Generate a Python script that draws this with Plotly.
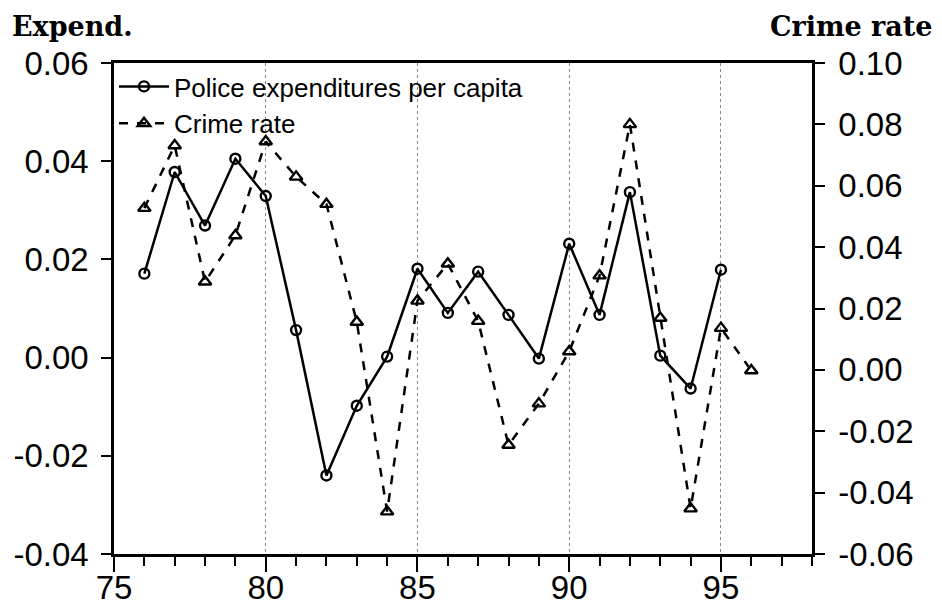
import plotly.graph_objects as go

years_police = list(range(76, 96))
police = [0.0171, 0.0378, 0.0269, 0.0405, 0.0329, 0.0056, -0.0240, -0.0098, 0.0002, 0.0181,
          0.0091, 0.0175, 0.0087, -0.0002, 0.0232, 0.0087, 0.0337, 0.0004, -0.0063, 0.0179]
years_crime = list(range(76, 97))
crime = [0.0527, 0.0731, 0.0287, 0.0438, 0.0744, 0.0629, 0.0540, 0.0156, -0.0462, 0.0225,
         0.0346, 0.0159, -0.0245, -0.0110, 0.0060, 0.0307, 0.0800, 0.0169, -0.0452, 0.0136, -0.0002]

left_ticks = [-0.04, -0.02, 0.00, 0.02, 0.04, 0.06]
left_labels = ["-0.04", "-0.02", "0.00", "0.02", "0.04", "0.06"]
right_ticks = [-0.06, -0.04, -0.02, 0.00, 0.02, 0.04, 0.06, 0.08, 0.10]
right_labels = ["-0.06", "-0.04", "-0.02", "0.00", "0.02", "0.04", "0.06", "0.08", "0.10"]

fig = go.Figure()
fig.add_trace(go.Scatter(
    x=years_police, y=police, name="Police expenditures per capita",
    mode="lines+markers", line=dict(color="black", width=2.5),
    marker=dict(symbol="circle-open", size=10, color="black", line=dict(width=2.4)),
))
fig.add_trace(go.Scatter(
    x=years_crime, y=crime, name="Crime rate", yaxis="y2",
    mode="lines+markers", line=dict(color="black", width=2.5, dash="dash"),
    marker=dict(symbol="triangle-up-open", size=11, color="black", line=dict(width=2.4)),
))

axis_font = dict(family="Liberation Sans, Arial", size=33, color="black")
fig.update_layout(
    width=930, height=599,
    margin=dict(l=106, r=126, t=55, b=53, autoexpand=False),
    paper_bgcolor="white", plot_bgcolor="white",
    showlegend=True,
    legend=dict(x=0.0, y=1.0, xanchor="left", yanchor="top",
                font=dict(family="Liberation Sans, Arial", size=26, color="black"),
                bgcolor="rgba(255,255,255,0)", borderwidth=0, tracegroupgap=0,
                itemwidth=50),
    xaxis=dict(range=[75, 98], tickmode="linear", tick0=75, dtick=5,
               ticks="outside", ticklen=15, tickwidth=1.5, tickcolor="black",
               ticklabelstandoff=-12, automargin=False,
               minor=dict(tickmode="linear", tick0=75, dtick=1, ticks="outside", ticklen=9,
                          tickwidth=1.5, tickcolor="black", showgrid=False),
               showgrid=True, gridcolor="#888888", griddash="dot", gridwidth=1,
               showline=True, linecolor="black", linewidth=2.5, mirror=True,
               tickfont=axis_font, zeroline=False),
    yaxis=dict(range=[-0.04, 0.06], tickvals=left_ticks, ticktext=left_labels,
               ticks="outside", ticklen=10, tickwidth=1.5, tickcolor="black",
               ticklabelstandoff=6, automargin=False,
               showgrid=False, zeroline=False,
               showline=True, linecolor="black", linewidth=2.5,
               tickfont=axis_font),
    yaxis2=dict(range=[-0.06, 0.10], tickvals=right_ticks, ticktext=right_labels,
                overlaying="y", side="right",
                ticks="outside", ticklen=10, tickwidth=1.5, tickcolor="black",
                ticklabelstandoff=7, automargin=False,
                showgrid=False, zeroline=False,
                showline=True, linecolor="black", linewidth=2.5,
                tickfont=axis_font),
    annotations=[
        dict(text="<b>Expend.</b>", xref="paper", yref="paper", x=0, y=1,
             xshift=-103, yshift=37, xanchor="left", yanchor="middle", showarrow=False,
             borderpad=0, font=dict(family="DejaVu Serif", size=27, color="black")),
        dict(text="<b>Crime rate</b>", xref="paper", yref="paper", x=1, y=1,
             xshift=122, yshift=37, xanchor="right", yanchor="middle", showarrow=False,
             borderpad=0, font=dict(family="DejaVu Serif", size=27, color="black")),
    ],
)

fig.write_html("out.html")
